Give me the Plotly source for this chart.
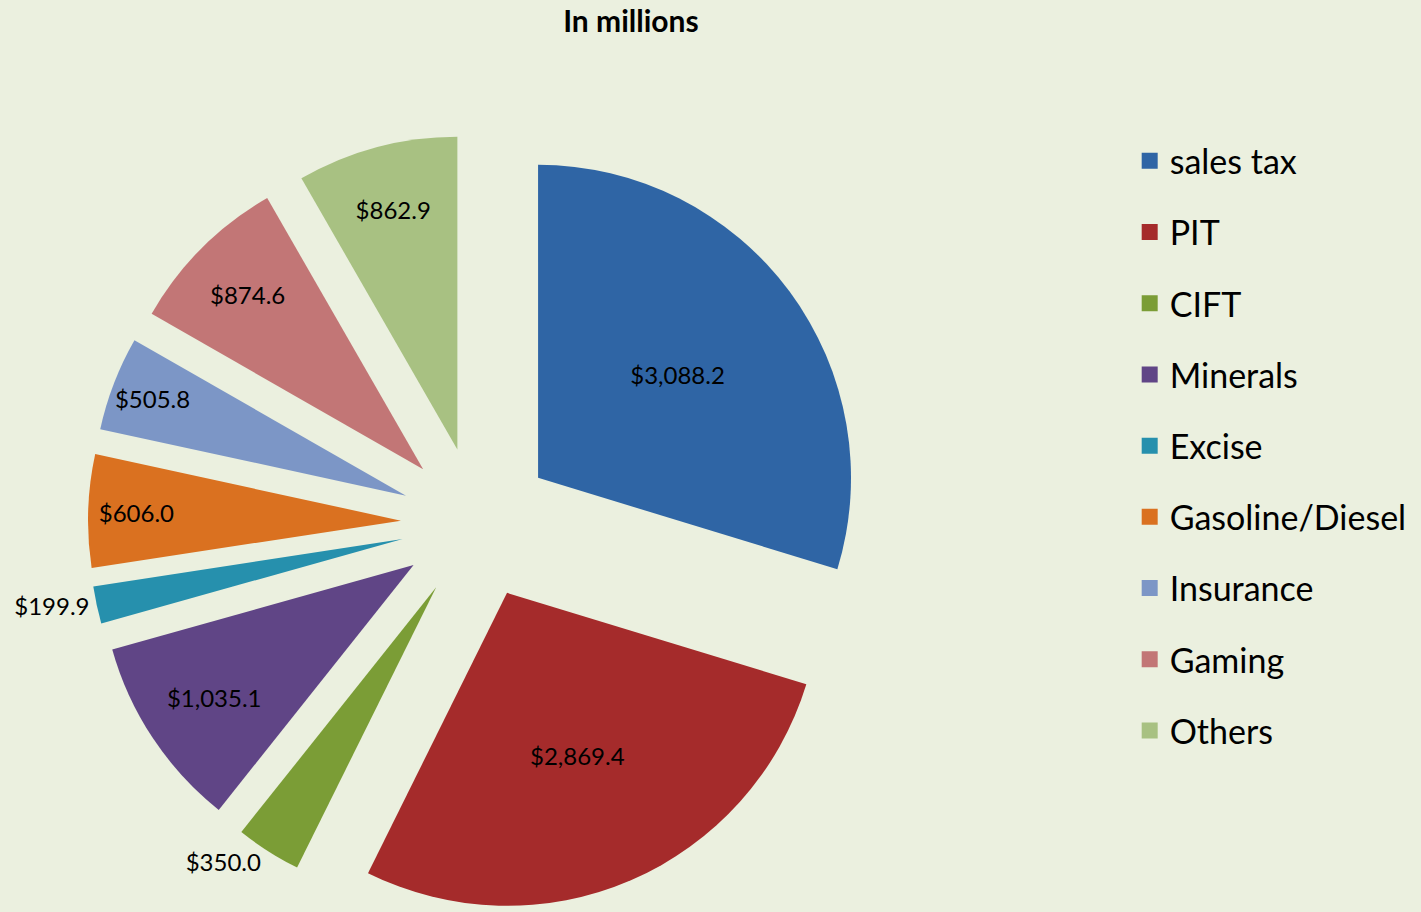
import plotly.graph_objects as go

categories = ["sales tax", "PIT", "CIFT", "Minerals", "Excise",
              "Gasoline/Diesel", "Insurance", "Gaming", "Others"]
values = [3088.2, 2869.4, 350.0, 1035.1, 199.9, 606.0, 505.8, 874.6, 862.9]
colors = ["#2F65A5", "#A52B2B", "#7B9D36", "#604586", "#2690AD",
          "#DA7120", "#7C96C6", "#C27676", "#A8C182"]
text_positions = ["inside", "inside", "outside", "inside", "outside",
                  "inside", "inside", "inside", "inside"]

BG = "#EBF0DF"
FONT = "Lato"

fig = go.Figure()

fig.add_trace(go.Pie(
    labels=categories,
    values=values,
    sort=False,
    direction="clockwise",
    rotation=0,
    pull=[0.243] * len(values),
    marker=dict(colors=colors, line=dict(width=0)),
    texttemplate="$%{value:,.1f}",
    textposition=text_positions,
    insidetextorientation="horizontal",
    textfont=dict(family=FONT, size=24, color="black"),
    outsidetextfont=dict(family=FONT, size=24, color="black"),
    domain=dict(x=[0.0619, 0.6094], y=[0.0, 0.853]),
    showlegend=False,
    hoverinfo="label+value",
))

# legend entries (one group per category for spacing)
for name, col in zip(categories, colors):
    fig.add_trace(go.Scatter(
        x=[None], y=[None], mode="markers", name=name,
        marker=dict(symbol="square", size=16, color=col),
        legendgroup=name, showlegend=True, hoverinfo="skip",
    ))

fig.update_layout(
    width=1421, height=912,
    margin=dict(l=0, r=0, t=0, b=0, autoexpand=False),
    paper_bgcolor=BG, plot_bgcolor=BG,
    title=dict(text="<b>In millions</b>", x=0.444, xanchor="center",
               y=0.976, yanchor="middle",
               font=dict(family=FONT, size=30, color="black")),
    xaxis=dict(visible=False),
    yaxis=dict(visible=False),
    legend=dict(x=0.795, xanchor="left", y=0.855, yanchor="top",
                font=dict(family=FONT, size=34, color="black"),
                tracegroupgap=24, bgcolor="rgba(0,0,0,0)"),
)

fig.write_html("out.html", config={"displayModeBar": False},
               post_script="document.body.style.margin='0';")
